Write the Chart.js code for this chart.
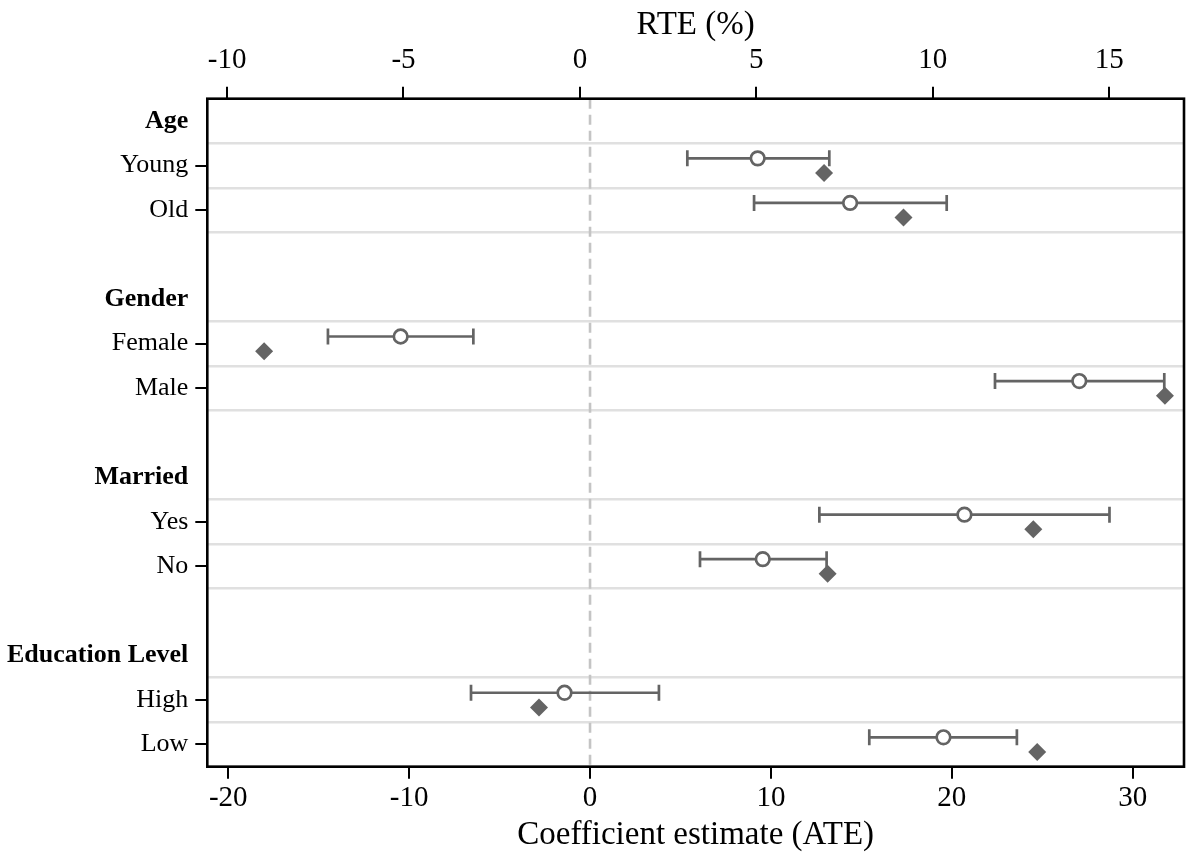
<!DOCTYPE html>
<html>
<head>
<meta charset="utf-8">
<script src="https://cdn.jsdelivr.net/npm/chart.js@4.4.1/dist/chart.umd.min.js"></script>
<style>
  html, body { margin: 0; padding: 0; background: #fff; overflow: hidden; }
  canvas { display: block; }
</style>
</head>
<body>
<canvas id="effectChart" width="1186" height="852"></canvas>
<script>
// Rows top to bottom; headers are bold, empty strings are spacer rows
const rowLabels = ['Age', 'Young', 'Old', '', 'Gender', 'Female', 'Male', '', 'Married', 'Yes', 'No', '', 'Education Level', 'High', 'Low'];
const headerRows = ['Age', 'Gender', 'Married', 'Education Level'];

// Estimates per group
const groups = ['Young', 'Old', 'Female', 'Male', 'Yes', 'No', 'High', 'Low'];
const ateEstimate = [9.27, 14.38, -10.47, 27.05, 20.70, 9.55, -1.41, 19.54];
const ateLower = [5.38, 9.07, -14.49, 22.39, 12.68, 6.08, -6.58, 15.44];
const ateUpper = [13.23, 19.72, -6.45, 31.75, 28.72, 13.08, 3.81, 23.60];
const rteEstimate = [6.92, 9.17, -8.95, 16.58, 12.85, 7.02, -1.16, 12.96];

// Axes
const ateTicks = [-20, -10, 0, 10, 20, 30];
const rteTicks = [-10, -5, 0, 5, 10, 15];
const ateRange = [-21.16, 32.84];
const rteRange = [-10.56, 17.12];
const rowRange = [-0.5, 14.5];
const zeroRef = [0];

const GREY = '#646464';
const SERIF = "'Liberation Serif', 'Times New Roman', serif";

// offsets so the ATE marker sits above the RTE marker inside a row
const ateShift = -0.16;
const rteShift = 0.17;

const rowOf = g => rowLabels.indexOf(g);

// grid lines sit between the data rows of each block
let gridRows = [];
groups.forEach(g => {
    const r = rowOf(g);
    [r - 0.5, r + 0.5].forEach(v => { if (!gridRows.includes(v)) gridRows.push(v); });
});

let datasets = [];

// dashed zero reference
datasets.push({
    data: [{ x: zeroRef[0], y: rowRange[0] }, { x: zeroRef[0], y: rowRange[1] }],
    xAxisID: 'x', yAxisID: 'y',
    showLine: true,
    borderColor: '#c4c4c4',
    borderWidth: 2.6,
    borderDash: [10, 6],
    pointRadius: 0,
    order: 5
});

// confidence intervals with caps
groups.forEach((g, i) => {
    const yv = rowOf(g) + ateShift;
    datasets.push({
        data: [{ x: ateLower[i], y: yv }, { x: ateUpper[i], y: yv }],
        xAxisID: 'x', yAxisID: 'y',
        showLine: true,
        borderColor: GREY,
        borderWidth: 2.7,
        pointStyle: 'line',
        rotation: 90,
        pointRadius: 8,
        pointBorderWidth: 2.7,
        pointBorderColor: GREY,
        order: 2
    });
});

// ATE point estimates (hollow circles)
datasets.push({
    data: groups.map((g, i) => ({ x: ateEstimate[i], y: rowOf(g) + ateShift })),
    xAxisID: 'x', yAxisID: 'y',
    pointStyle: 'circle',
    pointRadius: 6.8,
    pointBorderWidth: 2.7,
    pointBorderColor: GREY,
    pointBackgroundColor: '#ffffff',
    order: 0
});

// RTE estimates (filled diamonds, top axis)
datasets.push({
    data: groups.map((g, i) => ({ x: rteEstimate[i], y: rowOf(g) + rteShift })),
    xAxisID: 'x2', yAxisID: 'y',
    pointStyle: 'rectRot',
    pointRadius: 9,
    pointBorderWidth: 0,
    pointBackgroundColor: GREY,
    order: 1
});

const frame = {
    id: 'frame',
    afterDraw(chart) {
        const a = chart.chartArea;
        const ctx = chart.ctx;
        ctx.save();
        ctx.strokeStyle = '#000';
        ctx.lineWidth = 2.6;
        ctx.strokeRect(a.left, a.top, a.right - a.left, a.bottom - a.top);
        ctx.restore();
    }
};

// keep the plot box where the reference has it
function fixBox(s, size) {
    if (s.isHorizontal()) s.height = size; else s.width = size;
    s.paddingLeft = 0; s.paddingRight = 0; s.paddingTop = 0; s.paddingBottom = 0;
}

const tickFont = { family: SERIF, size: 29 };
const titleFont = { family: SERIF, size: 33 };

new Chart(document.getElementById('effectChart'), {
    type: 'scatter',
    data: { datasets: datasets },
    plugins: [frame],
    options: {
        responsive: false,
        animation: false,
        events: [],
        layout: { autoPadding: false, padding: { left: 0, right: 2, top: 0, bottom: 0 } },
        plugins: { legend: { display: false }, tooltip: { enabled: false } },
        scales: {
            x: {
                type: 'linear', position: 'bottom',
                min: ateRange[0], max: ateRange[1],
                afterBuildTicks: s => { s.ticks = ateTicks.map(v => ({ value: v })); },
                afterFit: s => fixBox(s, 85.3),
                ticks: { font: tickFont, color: '#000', padding: 2, callback: v => String(v) },
                grid: { drawOnChartArea: false, drawTicks: true, tickLength: 12, color: '#000', lineWidth: 2 },
                border: { display: false },
                title: { display: true, text: 'Coefficient estimate (ATE)', font: titleFont, color: '#000', padding: { top: 0, bottom: -3 } }
            },
            x2: {
                type: 'linear', position: 'top',
                min: rteRange[0], max: rteRange[1],
                afterBuildTicks: s => { s.ticks = rteTicks.map(v => ({ value: v })); },
                afterFit: s => fixBox(s, 98.7),
                ticks: { font: tickFont, color: '#000', padding: 9, callback: v => String(v) },
                grid: { drawOnChartArea: false, drawTicks: true, tickLength: 12, color: '#000', lineWidth: 2 },
                border: { display: false },
                title: { display: true, text: 'RTE (%)', font: titleFont, color: '#000', padding: { top: 6, bottom: 0 } }
            },
            y: {
                type: 'linear', position: 'left', reverse: true,
                min: rowRange[0], max: rowRange[1],
                afterBuildTicks: s => {
                    s.ticks = rowLabels.map((l, i) => ({ value: i })).filter(t => rowLabels[t.value] !== '');
                },
                afterFit: s => fixBox(s, 207.3),
                ticks: {
                    color: '#000',
                    padding: 7,
                    callback: v => rowLabels[v],
                    font: ctx => ({
                        family: SERIF, size: 26,
                        weight: (ctx.tick && headerRows.includes(rowLabels[ctx.tick.value])) ? 'bold' : 'normal'
                    })
                },
                grid: {
                    drawOnChartArea: false, drawTicks: true, tickLength: 12, lineWidth: 2,
                    color: ctx => (ctx.tick && headerRows.includes(rowLabels[ctx.tick.value])) ? 'rgba(0,0,0,0)' : '#000'
                },
                border: { display: false }
            },
            yg: {
                type: 'linear', position: 'left', reverse: true,
                min: rowRange[0], max: rowRange[1],
                afterBuildTicks: s => { s.ticks = gridRows.map(v => ({ value: v })); },
                afterFit: s => fixBox(s, 0),
                ticks: { display: false },
                grid: { drawOnChartArea: true, drawTicks: false, color: '#e0e0e0', lineWidth: 2.5 },
                border: { display: false }
            }
        }
    }
});
</script>
</body>
</html>
